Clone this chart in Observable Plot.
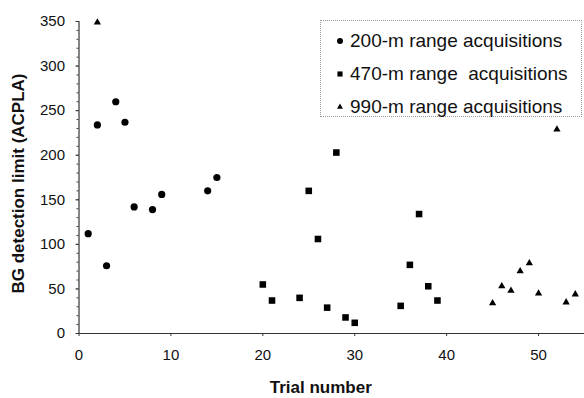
<!DOCTYPE html>
<html>
<head>
<meta charset="utf-8">
<script src="https://cdn.jsdelivr.net/npm/d3@7"></script>
<script src="https://cdn.jsdelivr.net/npm/@observablehq/plot@0.6"></script>
<style>
  html, body { margin: 0; padding: 0; background: #fff; }
  #wrap { position: relative; width: 584px; height: 398px; font-family: "Liberation Sans", Arial, sans-serif; }
  #legend { position: absolute; left: 320px; top: 20px; width: 262px; height: 97px; border: 1px dotted #9a9a9a; box-sizing: border-box; }
  .row { position: absolute; left: 0; height: 22px; display: flex; align-items: center; font-size: 19px; color: #111; white-space: pre; }
  .row svg { margin-left: 14px; margin-right: 5px; }
</style>
</head>
<body>
<div id="wrap"></div>
<script>
// ---- data ----
const trials200 = [1, 2, 3, 4, 5, 6, 8, 9, 14, 15];
const bg200     = [112, 234, 76, 260, 237, 142, 139, 156, 160, 175];

const trials470 = [20, 21, 24, 25, 26, 27, 28, 29, 30, 35, 36, 37, 38, 39];
const bg470     = [55, 37, 40, 160, 106, 29, 203, 18, 12, 31, 77, 134, 53, 37];

const trials990 = [2, 45, 46, 47, 48, 49, 50, 52, 53, 54];
const bg990     = [349, 34, 53, 48, 70, 79, 45, 229, 35, 44];

const seriesNames = ["200-m range acquisitions", "470-m range  acquisitions", "990-m range acquisitions"];
const xTicks = [0, 10, 20, 30, 40, 50];
const yTicks = [0, 50, 100, 150, 200, 250, 300, 350];
const yMinor = d3.range(0, 351, 10);
const xLabel = "Trial number";
const yLabel = "BG detection limit (ACPLA)";

const toRows = (xs, ys) => xs.map((t, i) => ({trial: t, bg: ys[i]}));
const d200 = toRows(trials200, bg200);
const d470 = toRows(trials470, bg470);
const d990 = toRows(trials990, bg990);

const chart = Plot.plot({
  width: 584,
  height: 398,
  marginLeft: 78.5,
  marginRight: 0,
  marginTop: 21,
  marginBottom: 65,
  style: {fontFamily: "'Liberation Sans', Arial, sans-serif", fontSize: "15px", color: "#111", background: "#fff"},
  x: {domain: [0, 55]},
  y: {domain: [0, 350]},
  marks: [
    Plot.axisY(yMinor, {tickSize: 2, tickFormat: () => "", label: null, stroke: "#444"}),
    Plot.axisY(yTicks, {tickSize: 3, tickPadding: 11, label: null, fontSize: 15, stroke: "#333"}),
    Plot.axisX(xTicks, {tickSize: 3, tickPadding: 13, label: null, fontSize: 15, stroke: "#333"}),
    Plot.ruleX([0], {stroke: "#333", strokeWidth: 1.2}),
    Plot.ruleY([0], {stroke: "#333", strokeWidth: 1.2}),
    Plot.dot(d200, {x: "trial", y: "bg", symbol: "circle", r: 3.6, fill: "#000", stroke: "none"}),
    Plot.dot(d470, {x: "trial", y: "bg", symbol: "square", r: 3.7, fill: "#000", stroke: "none"}),
    Plot.dot(d990, {x: "trial", y: "bg", symbol: "triangle", r: 2.7, fill: "#000", stroke: "none"}),
    Plot.text([yLabel], {frameAnchor: "left", textAnchor: "middle", lineAnchor: "middle", rotate: -90, dx: -60, dy: 6, fontWeight: "bold", fontSize: 17, fill: "#111"}),
    Plot.text([xLabel], {frameAnchor: "bottom", textAnchor: "middle", lineAnchor: "middle", dx: -11, dy: 54, fontWeight: "bold", fontSize: 17, fill: "#111"})
  ]
});

const wrap = document.getElementById("wrap");
wrap.appendChild(chart);

// legend
const legend = document.createElement("div");
legend.id = "legend";
const symSizes = [3, 2.9, 2.2];
const rowTops = [9, 42, 75];
seriesNames.forEach((name, i) => {
  const row = document.createElement("div");
  row.className = "row";
  row.style.top = rowTops[i] + "px";
  const svg = d3.create("svg").attr("width", 10).attr("height", 10);
  const sym = d3.symbol(i === 0 ? d3.symbolCircle : i === 1 ? d3.symbolSquare : d3.symbolTriangle, Math.PI * symSizes[i] * symSizes[i]);
  svg.append("path").attr("d", sym()).attr("transform", "translate(5,5)").attr("fill", "#000");
  row.appendChild(svg.node());
  const span = document.createElement("span");
  span.textContent = name;
  row.appendChild(span);
  legend.appendChild(row);
});
wrap.appendChild(legend);
</script>
</body>
</html>
